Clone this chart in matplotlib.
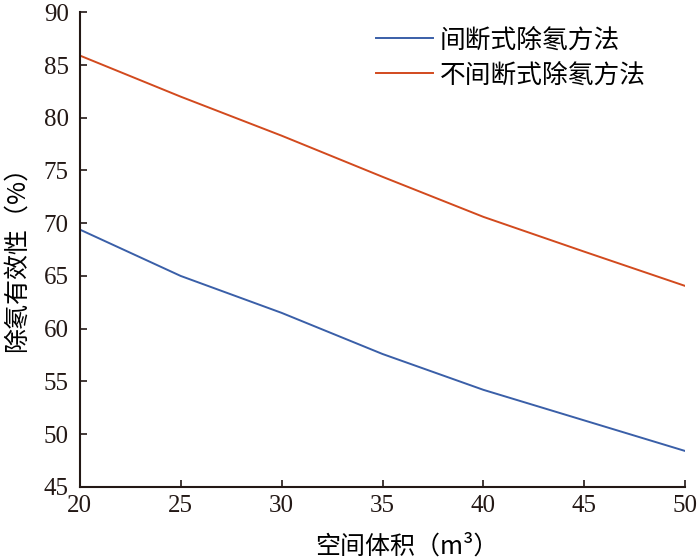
import matplotlib
matplotlib.use("Agg")
import matplotlib.pyplot as plt

plt.rcParams['font.family'] = ['Noto Sans CJK SC', 'DejaVu Sans']

volume = [20, 25, 30, 35, 40, 45, 50]
intermittent = [69.4, 65.0, 61.5, 57.6, 54.2, 51.3, 48.4]
continuous = [85.9, 82.0, 78.3, 74.4, 70.6, 67.3, 64.05]

labels = ["间断式除氡方法", "不间断式除氡方法"]
x_ticks = [20, 25, 30, 35, 40, 45, 50]
y_ticks = [45, 50, 55, 60, 65, 70, 75, 80, 85, 90]

fig = plt.figure(figsize=(7, 5.59), dpi=100)
ax = fig.add_axes([0.114, 0.129, 0.865, 0.849])

ax.plot(volume, intermittent, '-', color="#3a5fa8", lw=1.4, label=labels[0])
ax.plot(volume, continuous, '-', color="#d24a1e", lw=1.4, label=labels[1])

ax.set_xlim(20, 50)
ax.set_ylim(45, 90)
ax.set_xticks(x_ticks)
ax.set_yticks(y_ticks)

for lab in ax.get_xticklabels() + ax.get_yticklabels():
    lab.set_family("Liberation Serif")
    lab.set_fontsize(18)

ax.tick_params(direction="in", length=5, width=1.2, colors="#231815", pad=6)
ax.tick_params(axis="y", pad=8)
for side in ["top", "right"]:
    ax.spines[side].set_visible(False)
for side in ["left", "bottom"]:
    ax.spines[side].set_linewidth(1.5)
    ax.spines[side].set_color("#231815")

ax.set_xlabel("空间体积（m³）", fontsize=18)
ax.set_ylabel("除氡有效性（%）", fontsize=18)
ax.xaxis.set_label_coords(0.54, -0.098)
ax.yaxis.set_label_coords(-0.083, 0.494)

ax.legend(loc="upper left", frameon=False, fontsize=18.5, handlelength=2.2,
          handletextpad=0.25, labelspacing=0.35, borderpad=0, borderaxespad=0,
          bbox_to_anchor=(0.49, 0.968))

fig.savefig("out.png", dpi=100)
